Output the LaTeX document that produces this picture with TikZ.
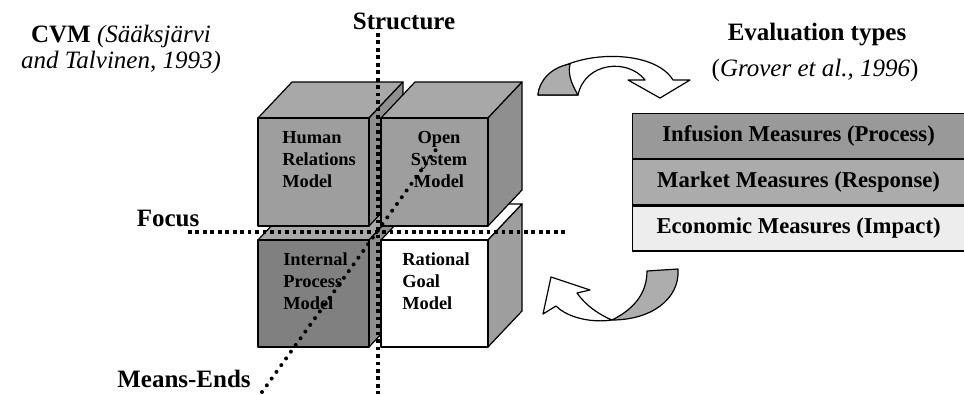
\documentclass[tikz,border=0pt]{standalone}
\usepackage{fontspec}
\setmainfont{Liberation Serif}
\definecolor{cubefront}{gray}{0.62}
\definecolor{cubetop}{gray}{0.66}
\definecolor{cubeside}{gray}{0.56}
\definecolor{ipfront}{gray}{0.50}
\definecolor{rowone}{gray}{0.60}
\definecolor{rowtwo}{gray}{0.67}
\definecolor{rowthree}{gray}{0.93}
\definecolor{arrowgray}{gray}{0.68}
\newcommand{\bigf}{\fontsize{18.75}{19.5}\selectfont}
\newcommand{\cubef}{\fontsize{13.8}{16.5}\selectfont\bfseries}
\newcommand{\rowf}{\fontsize{17}{20}\selectfont\bfseries}
\newcommand{\drawcube}[7]{%
  \filldraw[cubeedge,fill=#6] (#1,#2) -- (#1+34,#2-36) -- (#3+34,#2-36) -- (#3,#2) -- cycle;
  \filldraw[cubeedge,fill=#7] (#3,#2) -- (#3+34,#2-36) -- (#3+34,#4-36) -- (#3,#4) -- cycle;
  \filldraw[cubeedge,fill=#5] (#1,#2) rectangle (#3,#4);
}
\begin{document}
\begin{tikzpicture}[x=0.75pt,y=-0.75pt,
  cubeedge/.style={draw=black,line width=0.9pt,line join=round},
  axisdot/.style={line width=2.8pt,dash pattern=on 2.8pt off 2.8pt},
  diagdot/.style={line width=3pt,line cap=round,dash pattern=on 0pt off 6.2pt},
  biglabel/.style={font=\bigf\bfseries,inner sep=0pt},
  cubetext/.style={font=\cubef,align=left,inner sep=0pt,anchor=north west},
  tablerow/.style={draw=black,line width=0.9pt,minimum width=249pt,minimum height=33.75pt,
    anchor=north west,inner sep=0pt,font=\rowf},
  arrowband/.style={draw=black,line width=0.9pt,line join=round}]
\useasboundingbox (0,0) rectangle (964,394);

% cubes (back to front)
\drawcube{258}{240}{369}{347}{ipfront}{cubetop}{cubeside}
\drawcube{381}{240}{488}{347}{white}{white}{cubefront}
\drawcube{258}{118}{369}{226}{cubefront}{cubetop}{cubeside}
\drawcube{381}{118}{488}{226}{cubefront}{cubetop}{cubeside}

\node[cubetext] (hr) at (282,131) {Human\\Relations\\Model};
\node[cubetext,align=center,anchor=north] (os) at (439,131) {Open\\System\\Model};
\node[cubetext] (ip) at (283,252) {Internal\\Process\\Model};
\node[cubetext] (rg) at (402,252) {Rational\\Goal\\Model};

% axes
\coordinate (stop) at (378,33);
\coordinate (sbot) at (378,394);
\coordinate (fleft) at (188,232);
\coordinate (fright) at (567,232);
\coordinate (mlow) at (262,392);
\coordinate (mhigh) at (440,144);
\draw[axisdot] (stop) -- (sbot);
\draw[axisdot] (fleft) -- (fright);
\draw[diagdot] (mlow) -- (mhigh);

\node[biglabel] (structure) at (404,21) {Structure};
\node[biglabel] (focus) at (168,218) {Focus};
\node[biglabel] (meansends) at (184,379) {Means-Ends};
\node[font=\bigf,align=center,inner sep=0pt] (cvm) at (121,49)
  {\textbf{CVM} \textit{(Sääksjärvi}\\\textit{and Talvinen, 1993)}};
\node[biglabel] (evaltypes) at (817,35) {Evaluation types};
\node[font=\bigf,inner sep=0pt] (grover) at (815,70) {(\textit{Grover et al., 1996})};

% table
\node[tablerow,fill=rowone] (infusion) at (632,113) {Infusion Measures (Process)};
\node[tablerow,fill=rowtwo] (market) at (infusion.south west) {Market Measures (Response)};
\node[tablerow,fill=rowthree] (economic) at (market.south west) {Economic Measures (Impact)};

% top curved arrow
\filldraw[arrowband,fill=white] (538,95) .. controls (542,52) and (650,42) .. (673,80)
  -- (690,80) -- (660,98) -- (628,80) -- (645,80)
  .. controls (628,58) and (585,62) .. (578,95) -- cycle;
\filldraw[arrowband,fill=arrowgray] (538,95) .. controls (539,80) and (552,67) .. (570,64)
  .. controls (567,76) and (574,88) .. (578,95) -- cycle;

% bottom curved arrow
\filldraw[arrowband,fill=white] (612,320) .. controls (592,323) and (568,318) .. (556,306)
  -- (543,314) -- (551,277) -- (590,290) -- (577,293)
  .. controls (586,306) and (600,315) .. (612,320) -- cycle;
\filldraw[arrowband,fill=arrowgray] (647,271) -- (678,269)
  .. controls (680,300) and (650,320) .. (612,320)
  .. controls (632,310) and (647,295) .. (647,271) -- cycle;
\end{tikzpicture}
\end{document}
